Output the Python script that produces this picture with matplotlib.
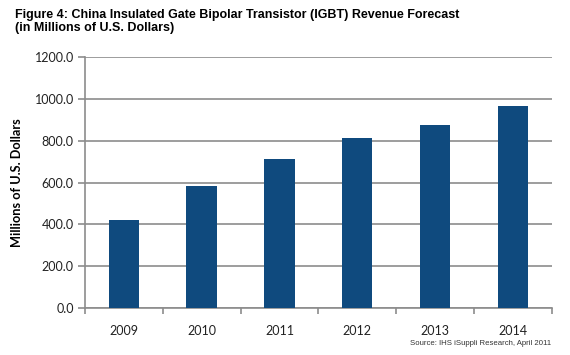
import matplotlib.pyplot as plt
import numpy as np

# data
years = ['2009', '2010', '2011', '2012', '2013', '2014']
revenue = [421, 585, 715, 815, 875, 968]
y_ticks = [0, 200, 400, 600, 800, 1000, 1200]

bar_color = '#0f4a7e'
grid_color = '#8c8c8c'

fig = plt.figure(figsize=(5.7, 3.55), dpi=100)
ax = fig.add_axes([0.149, 0.132, 0.819, 0.707])

x = np.arange(len(years))
ax.bar(x, revenue, width=0.39, color=bar_color, zorder=3)

ax.set_ylim(0, 1200)
ax.set_xlim(-0.5, len(years) - 0.5)
ax.set_yticks(y_ticks)
ax.set_yticklabels(['%.1f' % v for v in y_ticks], fontsize=9, family='Lato', color='#222222')
ax.yaxis.grid(True, color=grid_color, linewidth=1.2, zorder=0)

ax.set_xticks(x)
ax.set_xticklabels(years, fontsize=9, family='Lato', color='#222222')
ax.set_xticks(np.arange(-0.5, len(years)), minor=True)
ax.tick_params(axis='x', which='major', length=0, pad=12)
ax.tick_params(axis='x', which='minor', length=4, color=grid_color, width=1.2)
ax.tick_params(axis='y', length=5, color=grid_color, width=1.2, pad=3)

for s in ['top', 'right']:
    ax.spines[s].set_visible(False)
for s in ['left', 'bottom']:
    ax.spines[s].set_color(grid_color)
    ax.spines[s].set_linewidth(1.2)

ax.set_ylabel('Millions of U.S. Dollars', fontsize=9.2, family='Lato', fontweight='bold', labelpad=8)

fig.text(0.026, 0.94, 'Figure 4: China Insulated Gate Bipolar Transistor (IGBT) Revenue Forecast\n(in Millions of U.S. Dollars)',
         fontsize=9, fontweight='bold', family='Liberation Sans', va='center', ha='left', linespacing=1.15)
fig.text(0.967, 0.031, 'Source: IHS iSuppli Research, April 2011', fontsize=5.6, family='Liberation Sans',
         ha='right', va='center', color='#333333')

fig.savefig('out.png', dpi=100)
